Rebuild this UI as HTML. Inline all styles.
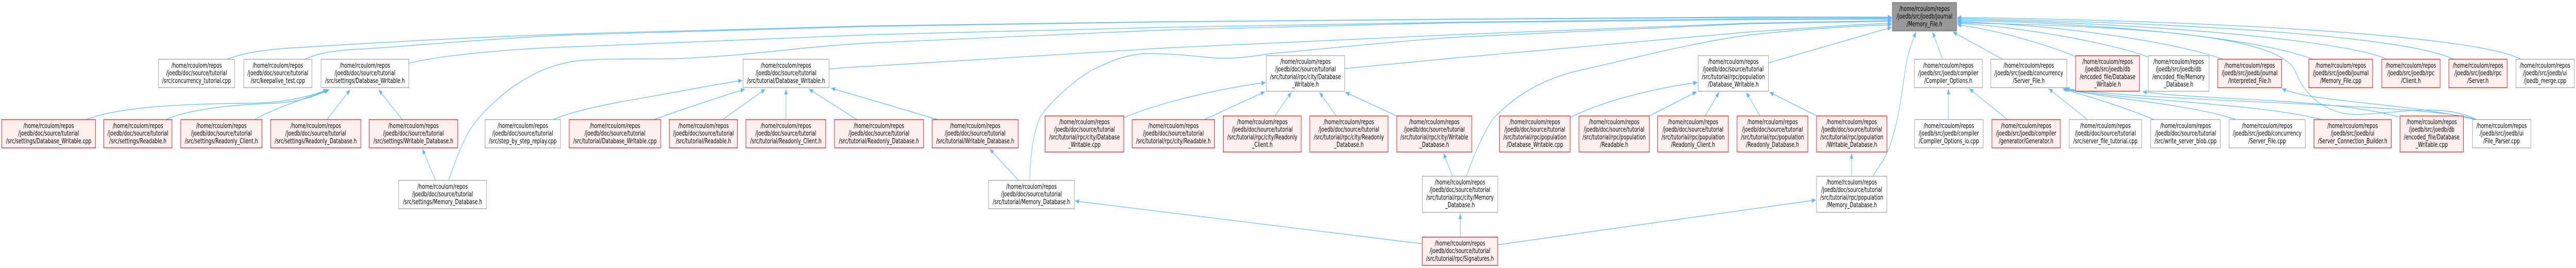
<!DOCTYPE html>
<html><head><meta charset="utf-8"><style>
html,body{margin:0;padding:0;background:#fff;width:100%;height:520px;overflow:hidden;}
svg{display:block;width:100%;height:520px;}
text{font-family:"DejaVu Sans","Liberation Sans",sans-serif;font-size:13px;fill:#000;text-anchor:middle;}
.w{fill:#fff;stroke:#999;stroke-width:1.2;}
.r{fill:#fff0f0;stroke:#f00;stroke-width:1.2;}
.g{fill:#999;stroke:#666;stroke-width:1.2;}
.e{fill:none;stroke:#63b8ff;stroke-width:1.2;marker-end:url(#ah);}
</style></head><body>
<svg viewBox="0 0 7069 520" preserveAspectRatio="none" xmlns="http://www.w3.org/2000/svg">
<defs><marker id="ah" markerWidth="12" markerHeight="10" refX="11" refY="4.5" orient="auto" markerUnits="userSpaceOnUse"><path d="M0,0 L11,4.5 L0,9 z" fill="#63b8ff"/></marker></defs>

<!-- edges -->
<g>
<path class="e" d="M236,232 C330,206 520,201 700,200 C790,199 860,185 898,174"/>
<path class="e" d="M456,232 C520,211 640,203 760,200 C830,197 875,184 901,174"/>
<path class="e" d="M698,232 C760,208 850,188 904,174"/>
<path class="e" d="M897,232 L961,174"/>
<path class="e" d="M1104,232 L1039,174"/>
<path class="e" d="M1195,350 L1159,289"/>
<path class="e" d="M1231,350 C1260,290 1285,250 1315,228 C1400,160 1500,122 1600,117 C1700,112 1800,116 1886,113 C2100,105 2200,90 2400,83 C2700,72 3000,62 3200,58 C3500,52 3800,46 4000,44 C4300,42 4600,39 4800,38 C4950,37 5100,37 5191,37"/>
<path class="e" d="M622,115 C680,100 740,96 800,93 C1100,80 1300,72 1600,65 C2000,56 2200,52 2400,50 C2800,45 3000,43 3200,42 C3500,40 3800,38 4000,37 C4300,35 4600,34 4800,33 C4950,33 5100,33 5191,33"/>
<path class="e" d="M836,115 C880,100 950,96 1000,95 C1200,85 1400,72 1600,67 C2000,58 2200,53 2400,51 C2800,46 3000,43 3200,42.5 C3500,40 3800,38 4000,37.5 C4300,36 4600,35 4800,34 C4950,34 5100,34 5191,34.5"/>
<path class="e" d="M1122,123 C1200,108 1400,94 1600,90 C1900,82 2200,72 2400,67 C2800,60 3000,55 3200,53 C3500,48 3800,44 4000,43 C4300,40 4600,37 4800,36.5 C4950,36 5100,36 5191,36"/>
<path class="e" d="M2275,134 C2320,131 2360,129 2400,128 C2700,116 3000,100 3200,93 C3500,82 3800,72 4000,67 C4300,58 4600,49 4800,45 C4950,42 5100,40 5191,40"/>
<path class="e" d="M2826,350 C2826,320 2830,270 2854,227 C2890,190 2960,150 3000,135 C3050,118 3090,105 3150,104 C3250,104 3300,112 3353,113 C3420,113 3450,107 3490,104 C3700,90 3900,76 4000,72 C4300,60 4600,50 4800,46 C4950,43 5100,41 5191,41"/>
<path class="e" d="M3690,133 C3800,125 3900,118 4000,112 C4300,95 4600,72 4800,62 C4950,55 5100,47 5191,45"/>
<path class="e" d="M4024,342 C4050,290 4080,245 4102,227 C4180,170 4270,145 4357,133 C4500,110 4650,82 4800,68 C4950,56 5100,50 5191,48"/>
<path class="e" d="M4853,122 L5191,53"/>
<path class="e" d="M5139,342 C5160,320 5180,300 5190,275 C5215,220 5222,160 5232,120 C5240,95 5250,75 5258,62"/>
<path class="e" d="M5331,115 L5303,62"/>
<path class="e" d="M5496,115 L5359,62"/>
<path class="e" d="M5696,110 C5650,95 5500,60 5371,48"/>
<path class="e" d="M5893,110 C5800,85 5550,52 5371,45"/>
<path class="e" d="M6100,115 C6000,88 5700,50 5371,42"/>
<path class="e" d="M6347,115 C6200,75 5800,45 5371,40"/>
<path class="e" d="M6550,115 C6450,80 5900,44 5371,38"/>
<path class="e" d="M6734,115 C6600,70 6000,44 5371,36"/>
<path class="e" d="M6918,115 C6800,70 6100,40 5371,34"/>
<path class="e" d="M6797,232 C6700,200 6600,218 6480,222 C6400,225 6330,195 6300,140 C6260,70 5900,52 5371,44"/>
<path class="e" d="M5347,232 L5347,172"/>
<path class="e" d="M5509,232 L5404,172"/>
<path class="e" d="M5728,232 L5622,172"/>
<path class="e" d="M5911,232 C5820,205 5720,185 5660,172"/>
<path class="e" d="M6136,232 C6000,200 5760,190 5663,172"/>
<path class="e" d="M6371,232 C6200,200 5820,195 5666,172"/>
<path class="e" d="M6797,232 C6650,200 5950,200 5668,172"/>
<path class="e" d="M6584,227 C6400,190 6050,195 5880,178"/>
<path class="e" d="M6790,232 C6600,198 6350,200 6262,172"/>
<path class="e" d="M4309,228 C4400,195 4550,170 4658,160"/>
<path class="e" d="M4526,225 L4656,178"/>
<path class="e" d="M4679,225 L4718,179"/>
<path class="e" d="M4830,225 L4792,179"/>
<path class="e" d="M4986,225 L4856,179"/>
<path class="e" d="M5081,342 L5081,297"/>
<path class="e" d="M4110,475 L4983,388"/>
<path class="e" d="M3903,473 L2950,390"/>
<path class="e" d="M4007,460 L4007,414"/>
<path class="e" d="M3986,342 L3961,297"/>
<path class="e" d="M3084,228 C3200,195 3350,172 3473,160"/>
<path class="e" d="M3305,232 L3471,178"/>
<path class="e" d="M3498,225 L3544,179"/>
<path class="e" d="M3667,225 L3621,179"/>
<path class="e" d="M3833,225 L3692,179"/>
<path class="e" d="M1519,232 C1560,218 1650,205 1700,198 C1850,180 1950,165 2037,156"/>
<path class="e" d="M1794,232 C1900,205 1990,185 2044,173"/>
<path class="e" d="M1983,232 L2100,173"/>
<path class="e" d="M2157,232 L2157,172"/>
<path class="e" d="M2352,232 L2220,173"/>
<path class="e" d="M2573,232 L2281,171"/>
<path class="e" d="M2795,350 L2716,289"/>
</g>

<!-- root -->
<rect class="g" x="5193" y="5" width="176" height="55"/>
<text x="5281" y="21.5">/home/rcoulom/repos</text><text x="5281" y="36.2">/joedb/src/joedb/journal</text><text x="5281" y="50.9">/Memory_File.h</text>

<!-- row 1 -->
<rect class="w" x="435" y="115" width="209" height="55"/>
<text x="539.5" y="131.5">/home/rcoulom/repos</text><text x="539.5" y="146.2">/joedb/doc/source/tutorial</text><text x="539.5" y="160.9">/src/concurrency_tutorial.cpp</text>

<rect class="w" x="669" y="115" width="187" height="55"/>
<text x="762.5" y="131.5">/home/rcoulom/repos</text><text x="762.5" y="146.2">/joedb/doc/source/tutorial</text><text x="762.5" y="160.9">/src/keepalive_test.cpp</text>

<rect class="w" x="881" y="115" width="241" height="55"/>
<text x="1001.5" y="131.5">/home/rcoulom/repos</text><text x="1001.5" y="146.2">/joedb/doc/source/tutorial</text><text x="1001.5" y="160.9">/src/settings/Database_Writable.h</text>

<rect class="w" x="2039" y="115" width="236" height="55"/>
<text x="2157" y="131.5">/home/rcoulom/repos</text><text x="2157" y="146.2">/joedb/doc/source/tutorial</text><text x="2157" y="160.9">/src/tutorial/Database_Writable.h</text>

<rect class="w" x="3475" y="108" width="215" height="69"/>
<text x="3582.5" y="124">/home/rcoulom/repos</text><text x="3582.5" y="138.7">/joedb/doc/source/tutorial</text><text x="3582.5" y="153.4">/src/tutorial/rpc/city/Database</text><text x="3582.5" y="168.1">_Writable.h</text>

<rect class="w" x="4660" y="108" width="193" height="69"/>
<text x="4756.5" y="124">/home/rcoulom/repos</text><text x="4756.5" y="138.7">/joedb/doc/source/tutorial</text><text x="4756.5" y="153.4">/src/tutorial/rpc/population</text><text x="4756.5" y="168.1">/Database_Writable.h</text>

<rect class="w" x="5253" y="115" width="187" height="55"/>
<text x="5346.5" y="131.5">/home/rcoulom/repos</text><text x="5346.5" y="146.2">/joedb/src/joedb/compiler</text><text x="5346.5" y="160.9">/Compiler_Options.h</text>

<rect class="w" x="5463" y="115" width="209" height="55"/>
<text x="5567.5" y="131.5">/home/rcoulom/repos</text><text x="5567.5" y="146.2">/joedb/src/joedb/concurrency</text><text x="5567.5" y="160.9">/Server_File.h</text>

<rect class="r" x="5696" y="108" width="175" height="69"/>
<text x="5783.5" y="124">/home/rcoulom/repos</text><text x="5783.5" y="138.7">/joedb/src/joedb/db</text><text x="5783.5" y="153.4">/encoded_file/Database</text><text x="5783.5" y="168.1">_Writable.h</text>

<rect class="w" x="5895" y="108" width="167" height="69"/>
<text x="5978.5" y="124">/home/rcoulom/repos</text><text x="5978.5" y="138.7">/joedb/src/joedb/db</text><text x="5978.5" y="153.4">/encoded_file/Memory</text><text x="5978.5" y="168.1">_Database.h</text>

<rect class="r" x="6086" y="115" width="175" height="55"/>
<text x="6173.5" y="131.5">/home/rcoulom/repos</text><text x="6173.5" y="146.2">/joedb/src/joedb/journal</text><text x="6173.5" y="160.9">/Interpreted_File.h</text>

<rect class="r" x="6336" y="115" width="175" height="55"/>
<text x="6423.5" y="131.5">/home/rcoulom/repos</text><text x="6423.5" y="146.2">/joedb/src/joedb/journal</text><text x="6423.5" y="160.9">/Memory_File.cpp</text>

<rect class="r" x="6536" y="115" width="160" height="55"/>
<text x="6616" y="131.5">/home/rcoulom/repos</text><text x="6616" y="146.2">/joedb/src/joedb/rpc</text><text x="6616" y="160.9">/Client.h</text>

<rect class="r" x="6720" y="115" width="160" height="55"/>
<text x="6800" y="131.5">/home/rcoulom/repos</text><text x="6800" y="146.2">/joedb/src/joedb/rpc</text><text x="6800" y="160.9">/Server.h</text>

<rect class="w" x="6904" y="115" width="160" height="55"/>
<text x="6984" y="131.5">/home/rcoulom/repos</text><text x="6984" y="146.2">/joedb/src/joedb/ui</text><text x="6984" y="160.9">/joedb_merge.cpp</text>

<!-- row 2 -->
<rect class="r" x="5" y="232" width="257" height="55"/>
<text x="133.5" y="248.5">/home/rcoulom/repos</text><text x="133.5" y="263.2">/joedb/doc/source/tutorial</text><text x="133.5" y="277.9">/src/settings/Database_Writable.cpp</text>

<rect class="r" x="285" y="232" width="187" height="55"/>
<text x="378.5" y="248.5">/home/rcoulom/repos</text><text x="378.5" y="263.2">/joedb/doc/source/tutorial</text><text x="378.5" y="277.9">/src/settings/Readable.h</text>

<rect class="r" x="496" y="232" width="223" height="55"/>
<text x="607.5" y="248.5">/home/rcoulom/repos</text><text x="607.5" y="263.2">/joedb/doc/source/tutorial</text><text x="607.5" y="277.9">/src/settings/Readonly_Client.h</text>

<rect class="r" x="743" y="232" width="247" height="55"/>
<text x="866.5" y="248.5">/home/rcoulom/repos</text><text x="866.5" y="263.2">/joedb/doc/source/tutorial</text><text x="866.5" y="277.9">/src/settings/Readonly_Database.h</text>

<rect class="r" x="1013" y="232" width="243" height="55"/>
<text x="1134.5" y="248.5">/home/rcoulom/repos</text><text x="1134.5" y="263.2">/joedb/doc/source/tutorial</text><text x="1134.5" y="277.9">/src/settings/Writable_Database.h</text>

<rect class="w" x="1331" y="232" width="207" height="55"/>
<text x="1434.5" y="248.5">/home/rcoulom/repos</text><text x="1434.5" y="263.2">/joedb/doc/source/tutorial</text><text x="1434.5" y="277.9">/src/step_by_step_replay.cpp</text>

<rect class="r" x="1562" y="232" width="251" height="55"/>
<text x="1687.5" y="248.5">/home/rcoulom/repos</text><text x="1687.5" y="263.2">/joedb/doc/source/tutorial</text><text x="1687.5" y="277.9">/src/tutorial/Database_Writable.cpp</text>

<rect class="r" x="1837" y="232" width="187" height="55"/>
<text x="1930.5" y="248.5">/home/rcoulom/repos</text><text x="1930.5" y="263.2">/joedb/doc/source/tutorial</text><text x="1930.5" y="277.9">/src/tutorial/Readable.h</text>

<rect class="r" x="2047" y="232" width="219" height="55"/>
<text x="2156.5" y="248.5">/home/rcoulom/repos</text><text x="2156.5" y="263.2">/joedb/doc/source/tutorial</text><text x="2156.5" y="277.9">/src/tutorial/Readonly_Client.h</text>

<rect class="r" x="2290" y="232" width="244" height="55"/>
<text x="2412" y="248.5">/home/rcoulom/repos</text><text x="2412" y="263.2">/joedb/doc/source/tutorial</text><text x="2412" y="277.9">/src/tutorial/Readonly_Database.h</text>

<rect class="r" x="2558" y="232" width="236" height="55"/>
<text x="2676" y="248.5">/home/rcoulom/repos</text><text x="2676" y="263.2">/joedb/doc/source/tutorial</text><text x="2676" y="277.9">/src/tutorial/Writable_Database.h</text>

<rect class="r" x="2868" y="225" width="216" height="70"/>
<text x="2976" y="241">/home/rcoulom/repos</text><text x="2976" y="255.7">/joedb/doc/source/tutorial</text><text x="2976" y="270.4">/src/tutorial/rpc/city/Database</text><text x="2976" y="285.1">_Writable.cpp</text>

<rect class="r" x="3107" y="232" width="226" height="55"/>
<text x="3220" y="248.5">/home/rcoulom/repos</text><text x="3220" y="263.2">/joedb/doc/source/tutorial</text><text x="3220" y="277.9">/src/tutorial/rpc/city/Readable.h</text>

<rect class="r" x="3357" y="225" width="214" height="70"/>
<text x="3464" y="241">/home/rcoulom/repos</text><text x="3464" y="255.7">/joedb/doc/source/tutorial</text><text x="3464" y="270.4">/src/tutorial/rpc/city/Readonly</text><text x="3464" y="285.1">_Client.h</text>

<rect class="r" x="3594" y="225" width="215" height="70"/>
<text x="3701.5" y="241">/home/rcoulom/repos</text><text x="3701.5" y="255.7">/joedb/doc/source/tutorial</text><text x="3701.5" y="270.4">/src/tutorial/rpc/city/Readonly</text><text x="3701.5" y="285.1">_Database.h</text>

<rect class="r" x="3833" y="225" width="206" height="70"/>
<text x="3936" y="241">/home/rcoulom/repos</text><text x="3936" y="255.7">/joedb/doc/source/tutorial</text><text x="3936" y="270.4">/src/tutorial/rpc/city/Writable</text><text x="3936" y="285.1">_Database.h</text>

<rect class="r" x="4115" y="225" width="194" height="70"/>
<text x="4212" y="241">/home/rcoulom/repos</text><text x="4212" y="255.7">/joedb/doc/source/tutorial</text><text x="4212" y="270.4">/src/tutorial/rpc/population</text><text x="4212" y="285.1">/Database_Writable.cpp</text>

<rect class="r" x="4333" y="225" width="193" height="70"/>
<text x="4429.5" y="241">/home/rcoulom/repos</text><text x="4429.5" y="255.7">/joedb/doc/source/tutorial</text><text x="4429.5" y="270.4">/src/tutorial/rpc/population</text><text x="4429.5" y="285.1">/Readable.h</text>

<rect class="r" x="4549" y="225" width="194" height="70"/>
<text x="4646" y="241">/home/rcoulom/repos</text><text x="4646" y="255.7">/joedb/doc/source/tutorial</text><text x="4646" y="270.4">/src/tutorial/rpc/population</text><text x="4646" y="285.1">/Readonly_Client.h</text>

<rect class="r" x="4767" y="225" width="194" height="70"/>
<text x="4864" y="241">/home/rcoulom/repos</text><text x="4864" y="255.7">/joedb/doc/source/tutorial</text><text x="4864" y="270.4">/src/tutorial/rpc/population</text><text x="4864" y="285.1">/Readonly_Database.h</text>

<rect class="r" x="4985" y="225" width="193" height="70"/>
<text x="5081.5" y="241">/home/rcoulom/repos</text><text x="5081.5" y="255.7">/joedb/doc/source/tutorial</text><text x="5081.5" y="270.4">/src/tutorial/rpc/population</text><text x="5081.5" y="285.1">/Writable_Database.h</text>

<rect class="w" x="5254" y="232" width="188" height="55"/>
<text x="5348" y="248.5">/home/rcoulom/repos</text><text x="5348" y="263.2">/joedb/src/joedb/compiler</text><text x="5348" y="277.9">/Compiler_Options_io.cpp</text>

<rect class="r" x="5466" y="232" width="188" height="55"/>
<text x="5560" y="248.5">/home/rcoulom/repos</text><text x="5560" y="263.2">/joedb/src/joedb/compiler</text><text x="5560" y="277.9">/generator/Generator.h</text>

<rect class="w" x="5678" y="232" width="199" height="55"/>
<text x="5777.5" y="248.5">/home/rcoulom/repos</text><text x="5777.5" y="263.2">/joedb/doc/source/tutorial</text><text x="5777.5" y="277.9">/src/server_file_tutorial.cpp</text>

<rect class="w" x="5902" y="232" width="191" height="55"/>
<text x="5997.5" y="248.5">/home/rcoulom/repos</text><text x="5997.5" y="263.2">/joedb/doc/source/tutorial</text><text x="5997.5" y="277.9">/src/write_server_blob.cpp</text>

<rect class="w" x="6117" y="232" width="209" height="55"/>
<text x="6221.5" y="248.5">/home/rcoulom/repos</text><text x="6221.5" y="263.2">/joedb/src/joedb/concurrency</text><text x="6221.5" y="277.9">/Server_File.cpp</text>

<rect class="r" x="6350" y="232" width="212" height="55"/>
<text x="6456" y="248.5">/home/rcoulom/repos</text><text x="6456" y="263.2">/joedb/src/joedb/ui</text><text x="6456" y="277.9">/Server_Connection_Builder.h</text>

<rect class="r" x="6586" y="225" width="174" height="70"/>
<text x="6673" y="241">/home/rcoulom/repos</text><text x="6673" y="255.7">/joedb/src/joedb/db</text><text x="6673" y="270.4">/encoded_file/Database</text><text x="6673" y="285.1">_Writable.cpp</text>

<rect class="w" x="6785" y="232" width="160" height="55"/>
<text x="6865" y="248.5">/home/rcoulom/repos</text><text x="6865" y="263.2">/joedb/src/joedb/ui</text><text x="6865" y="277.9">/File_Parser.cpp</text>

<!-- row 3 -->
<rect class="w" x="1094" y="350" width="241" height="55"/>
<text x="1214.5" y="366.5">/home/rcoulom/repos</text><text x="1214.5" y="381.2">/joedb/doc/source/tutorial</text><text x="1214.5" y="395.9">/src/settings/Memory_Database.h</text>

<rect class="w" x="2713" y="350" width="235" height="55"/>
<text x="2830.5" y="366.5">/home/rcoulom/repos</text><text x="2830.5" y="381.2">/joedb/doc/source/tutorial</text><text x="2830.5" y="395.9">/src/tutorial/Memory_Database.h</text>

<rect class="w" x="3903" y="342" width="207" height="70"/>
<text x="4006.5" y="358">/home/rcoulom/repos</text><text x="4006.5" y="372.7">/joedb/doc/source/tutorial</text><text x="4006.5" y="387.4">/src/tutorial/rpc/city/Memory</text><text x="4006.5" y="402.1">_Database.h</text>

<rect class="w" x="4985" y="342" width="193" height="70"/>
<text x="5081.5" y="358">/home/rcoulom/repos</text><text x="5081.5" y="372.7">/joedb/doc/source/tutorial</text><text x="5081.5" y="387.4">/src/tutorial/rpc/population</text><text x="5081.5" y="402.1">/Memory_Database.h</text>

<!-- row 4 -->
<rect class="r" x="3903" y="460" width="207" height="55"/>
<text x="4006.5" y="476.5">/home/rcoulom/repos</text><text x="4006.5" y="491.2">/joedb/doc/source/tutorial</text><text x="4006.5" y="505.9">/src/tutorial/rpc/Signatures.h</text>
</svg>
</body></html>
